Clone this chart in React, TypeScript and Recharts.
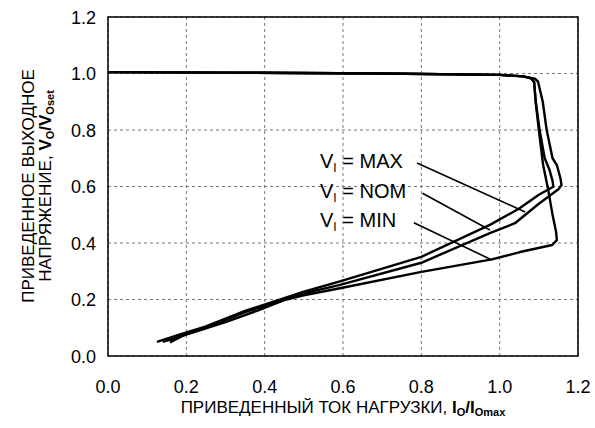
import {
  CartesianGrid,
  Line,
  LineChart,
  ReferenceArea,
  ReferenceLine,
  XAxis,
  YAxis,
} from "recharts";

const FONT = "'Liberation Sans', Arial, sans-serif";

const xTicks = [0, 0.2, 0.4, 0.6, 0.8, 1.0, 1.2];
const yTicks = [0, 0.2, 0.4, 0.6, 0.8, 1.0, 1.2];

// V_I = MAX
const maxCurrent = [
  0, 0.3, 0.7, 1.0, 1.06, 1.09, 1.098, 1.11, 1.12, 1.135, 1.146, 1.155, 1.158,
  1.15, 1.1, 1.039, 0.975, 0.8, 0.59, 0.5, 0.45, 0.35, 0.3, 0.25, 0.2, 0.158,
];
const maxVoltage = [
  1.005, 1.003, 1.0, 0.995, 0.99, 0.982, 0.971, 0.9, 0.8, 0.7, 0.676, 0.63,
  0.605, 0.59, 0.539, 0.47, 0.435, 0.33, 0.251, 0.222, 0.2, 0.155, 0.128, 0.1,
  0.078, 0.048,
];

// V_I = NOM
const nomCurrent = [
  0, 0.3, 0.7, 1.0, 1.06, 1.08, 1.088, 1.092, 1.102, 1.115, 1.127, 1.135,
  1.137, 1.1, 1.05, 0.975, 0.8, 0.59, 0.5, 0.45, 0.35, 0.25, 0.18, 0.125,
];
const nomVoltage = [
  1.005, 1.003, 1.0, 0.995, 0.99, 0.983, 0.97, 0.9, 0.8, 0.7, 0.66, 0.62,
  0.599, 0.571, 0.522, 0.464, 0.351, 0.263, 0.228, 0.205, 0.16, 0.105, 0.075,
  0.05,
];

// V_I = MIN
const minCurrent = [
  0, 0.3, 0.7, 1.0, 1.06, 1.08, 1.088, 1.092, 1.1, 1.111, 1.123, 1.135, 1.144,
  1.146, 1.134, 1.052, 0.98, 0.797, 0.592, 0.5, 0.45, 0.38, 0.3, 0.22, 0.14,
];
const minVoltage = [
  1.005, 1.003, 1.0, 0.995, 0.99, 0.983, 0.97, 0.9, 0.8, 0.676, 0.595, 0.5,
  0.44, 0.41, 0.393, 0.368, 0.342, 0.297, 0.24, 0.215, 0.198, 0.16, 0.12,
  0.085, 0.05,
];

const toPoints = (xs: number[], ys: number[]) =>
  xs.map((i, k) => ({ i, v: ys[k] }));

const series = [
  { name: "MAX", data: toPoints(maxCurrent, maxVoltage) },
  { name: "NOM", data: toPoints(nomCurrent, nomVoltage) },
  { name: "MIN", data: toPoints(minCurrent, minVoltage) },
];

// annotation pointers: label end -> curve
const pointers = [
  { from: { x: 0.789, y: 0.683 }, to: { x: 1.065, y: 0.51 } },
  { from: { x: 0.803, y: 0.576 }, to: { x: 0.975, y: 0.446 } },
  { from: { x: 0.781, y: 0.472 }, to: { x: 0.98, y: 0.34 } },
];

const XTick = ({ x, y, payload }: any) => (
  <text x={x} y={y + 37} textAnchor="middle" fontSize={18} fontFamily={FONT} fill="#000">
    {Number(payload.value).toFixed(1)}
  </text>
);

const YTick = ({ x, y, payload }: any) => (
  <text x={x - 12} y={y + 6.5} textAnchor="end" fontSize={18} fontFamily={FONT} fill="#000">
    {Number(payload.value).toFixed(1)}
  </text>
);

export default function App() {
  return (
    <div
      style={{
        position: "absolute",
        left: 0,
        top: 0,
        width: 595,
        height: 428,
        background: "#fff",
      }}
    >
      <LineChart
        width={595}
        height={428}
        margin={{ top: 17, right: 17, bottom: 22, left: 48 }}
      >
        <CartesianGrid stroke="#777" strokeDasharray="3 3" />
        <XAxis
          type="number"
          dataKey="i"
          domain={[0, 1.2]}
          ticks={xTicks}
          height={50}
          axisLine={false}
          tickLine={false}
          tickSize={0}
          tickMargin={0}
          tick={<XTick />}
          allowDataOverflow
        />
        <YAxis
          type="number"
          dataKey="v"
          domain={[0, 1.2]}
          ticks={yTicks}
          width={60}
          axisLine={false}
          tickLine={false}
          tickSize={0}
          tickMargin={0}
          tick={<YTick />}
          allowDataOverflow
        />
        <ReferenceArea
          x1={0}
          x2={1.2}
          y1={0}
          y2={1.2}
          fill="none"
          stroke="#000"
          strokeWidth={1.5}
          fillOpacity={0}
        />
        {series.map((s) => (
          <Line
            key={s.name}
            data={s.data}
            dataKey="v"
            type="linear"
            stroke="#000"
            strokeWidth={2.4}
            strokeLinejoin="round"
            dot={false}
            isAnimationActive={false}
          />
        ))}
        {pointers.map((p, k) => (
          <ReferenceLine
            key={k}
            segment={[p.from, p.to]}
            stroke="#000"
            strokeWidth={1.6}
          />
        ))}
      </LineChart>
      <svg
        width={595}
        height={428}
        style={{ position: "absolute", left: 0, top: 0, pointerEvents: "none" }}
        fontFamily={FONT}
      >
        <g transform="translate(33.5 186) rotate(-90)">
          <text x={0} y={0} textAnchor="middle" fontSize={17}>
            ПРИВЕДЕННОЕ ВЫХОДНОЕ
          </text>
        </g>
        <g transform="translate(51 186) rotate(-90)">
          <text x={0} y={0} textAnchor="middle" fontSize={17}>
            НАПРЯЖЕНИЕ,{" "}
            <tspan fontWeight="bold">V</tspan>
            <tspan fontWeight="bold" fontSize={11} dy={3}>O</tspan>
            <tspan fontWeight="bold" dy={-3}>/V</tspan>
            <tspan fontWeight="bold" fontSize={11} dy={3}>Oset</tspan>
          </text>
        </g>
        <text x={343} y={413} textAnchor="middle" fontSize={17}>
          ПРИВЕДЕННЫЙ ТОК НАГРУЗКИ,{" "}
          <tspan fontWeight="bold">I</tspan>
          <tspan fontWeight="bold" fontSize={11} dy={3}>O</tspan>
          <tspan fontWeight="bold" dy={-3}>/I</tspan>
          <tspan fontWeight="bold" fontSize={11} dy={3}>Omax</tspan>
        </text>
        {series.map((s, k) => (
          <text key={s.name} x={320} y={168 + k * 29.5} fontSize={20}>
            V
            <tspan fontSize={12} dy={4}>I</tspan>
            <tspan dy={-4}> = {s.name}</tspan>
          </text>
        ))}
      </svg>
    </div>
  );
}
